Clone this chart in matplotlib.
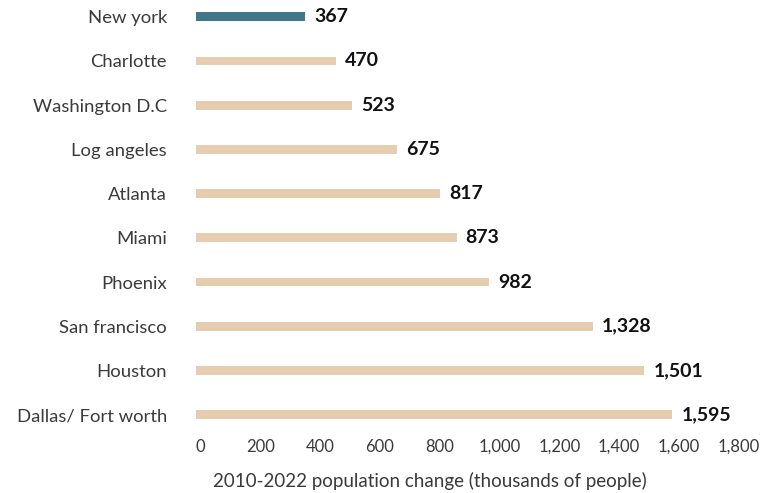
import matplotlib.pyplot as plt
import matplotlib.transforms as mtransforms
from matplotlib.ticker import FuncFormatter

plt.rcParams['font.family'] = ['Lato', 'DejaVu Sans']

# Population growth by metro area
cities = ['New york', 'Charlotte', 'Washington D.C', 'Log angeles', 'Atlanta',
          'Miami', 'Phoenix', 'San francisco', 'Houston', 'Dallas/ Fort worth']
change = [367, 470, 523, 675, 817, 873, 982, 1328, 1501, 1595]
highlight = 'New york'

BLUE = '#41778a'
BEIGE = '#e6cdb0'
TEXT = '#3a3a3a'

fig = plt.figure(figsize=(7.66, 4.93), dpi=100)
ax = fig.add_axes([0.2553, 0.132, 0.7025, 0.861])

colors = [BLUE if c == highlight else BEIGE for c in cities]
ax.barh(range(len(cities)), change, height=0.2, color=colors)

for i, v in enumerate(change):
    ax.annotate(f'{v:,}', (v, i), xytext=(6.5, 0), textcoords='offset points',
                va='center', ha='left', fontsize=14, fontweight='bold', color='#111111')

ax.set_yticks(range(len(cities)))
ax.set_yticklabels(cities, fontsize=13.3, color=TEXT)
ax.set_ylim(9.3, -0.3)

ax.set_xlim(0, 1800)
ax.set_xticks(range(0, 1801, 200))
ax.xaxis.set_major_formatter(FuncFormatter(lambda x, p: f'{int(x):,}'))
ax.tick_params(axis='x', labelsize=12, colors=TEXT, length=0, pad=8)
ax.tick_params(axis='y', length=0, pad=20.5)

# nudge x tick labels slightly right
shift = mtransforms.ScaledTranslation(5 / 100, 0, fig.dpi_scale_trans)
for lbl in ax.get_xticklabels():
    lbl.set_transform(lbl.get_transform() + shift)

ax.set_xlabel('2010-2022 population change (thousands of people)',
              fontsize=13.5, color=TEXT)
ax.xaxis.set_label_coords(0.436, -0.104)

for s in ax.spines.values():
    s.set_visible(False)

fig.savefig('out.png', dpi=100)
